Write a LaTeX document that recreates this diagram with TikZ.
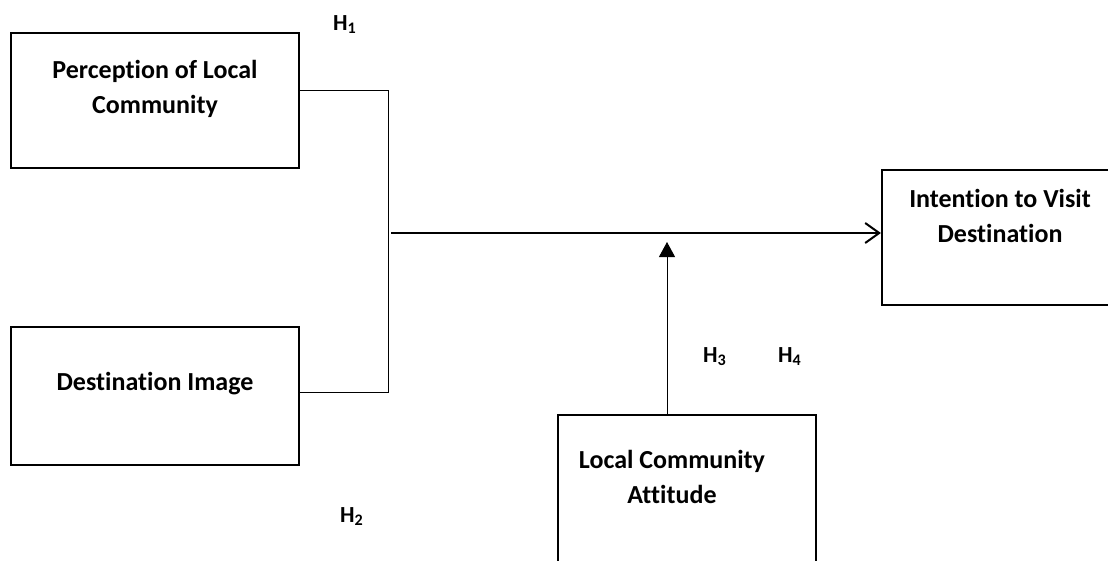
\documentclass[tikz,border=0pt]{standalone}
\usepackage{fontspec}
\setmainfont{Carlito}[Ligatures=NoCommon]
\usetikzlibrary{arrows.meta,positioning}

\tikzset{
  factor/.style={draw, line width=2.2pt, inner sep=0pt},
  factortext/.style={anchor=north, align=center, inner sep=0pt,
    font=\fontsize{26}{35}\selectfont\bfseries},
  hyp/.style={anchor=base west, inner sep=0pt,
    font=\fontsize{23}{27}\selectfont\bfseries},
  link/.style={line width=1pt},
  mainlink/.style={line width=2pt, -{Straight Barb[length=14pt,width=20pt,line width=2pt]}},
  modlink/.style={line width=1pt, -{Triangle[length=15pt,width=16pt]}},
}

\begin{document}
\begin{tikzpicture}[x=1pt,y=-1pt]

  \useasboundingbox (0,0) rectangle (1108,560);
  \clip (0,0) rectangle (1108,560);

  %% factors
  \node[factor, minimum width=288pt, minimum height=135pt] (percep) at (155,100.5) {};
  \node[factor, minimum width=288pt, minimum height=138pt] (destimg) at (155,396) {};
  \node[factor, minimum width=243pt, minimum height=135pt] (intent) at (1003.5,237.5) {};
  \node[factor, minimum width=258pt, minimum height=205pt] (attitude) at (687,517.5) {};

  \node[factortext] (percep text) at (155,60) {Perception of Local\\Community};
  \node[factortext] (destimg text) at (155,372) {Destination Image};
  \node[factortext] (intent text) at (1000,189) {Intention to Visit\\Destination};
  \node[factortext] (attitude text) at (672,450) {Local Community\\Attitude};

  %% hypotheses
  \node[hyp] (h1) at (333,30) {H\textsubscript{1}};
  \node[hyp] (h2) at (340,522) {H\textsubscript{2}};
  \node[hyp] (h3) at (703,362) {H\textsubscript{3}};
  \node[hyp] (h4) at (778,362) {H\textsubscript{4}};

  %% joints
  \coordinate (jtop) at (388,90);
  \coordinate (jbot) at (388,392);
  \coordinate (jmid) at (391,233);
  \coordinate (mod) at (667,242);

  %% links
  \draw[link] (percep.east |- jtop) -- (jtop) -- (jbot) -- (destimg.east |- jbot);
  \draw[mainlink] (jmid) -- (intent.west |- jmid);
  \draw[modlink] (attitude.north -| mod) -- (mod);

\end{tikzpicture}
\end{document}
